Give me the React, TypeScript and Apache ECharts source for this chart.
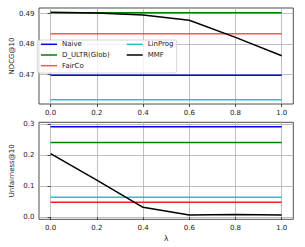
import React, { useEffect, useRef } from "react";
import * as echarts from "echarts";

const lambdas = [0, 0.2, 0.4, 0.6, 0.8, 1.0];
const xTicks = [0, 0.2, 0.4, 0.6, 0.8, 1.0];
const ndcgTicks = [0.47, 0.48, 0.49];
const unfairTicks = [0.0, 0.1, 0.2, 0.3];

const methods = ["Naive", "D_ULTR(Glob)", "FairCo", "LinProg", "MMF"];
const colorsTop = ["#0000ff", "#008000", "#ff5555", "#22c4c4", "#000000"];
const colorsBottom = ["#0000ff", "#008000", "#ff2020", "#22c4c4", "#000000"];

const ndcgNaive = [0.4698, 0.4698, 0.4698, 0.4698, 0.4698, 0.4698];
const ndcgDULTR = [0.4903, 0.4903, 0.4903, 0.4903, 0.4903, 0.4903];
const ndcgFairCo = [0.4834, 0.4834, 0.4834, 0.4834, 0.4834, 0.4834];
const ndcgLinProg = [0.4618, 0.4618, 0.4618, 0.4618, 0.4618, 0.4618];
const ndcgMMF = [0.4904, 0.4902, 0.4895, 0.4878, 0.4822, 0.4762];

const unfNaive = [0.2928, 0.2928, 0.2928, 0.2928, 0.2928, 0.2928];
const unfDULTR = [0.2416, 0.2416, 0.2416, 0.2416, 0.2416, 0.2416];
const unfFairCo = [0.0485, 0.0485, 0.0485, 0.0485, 0.0485, 0.0485];
const unfLinProg = [0.0646, 0.0646, 0.0646, 0.0646, 0.0646, 0.0646];
const unfMMF = [0.2056, 0.12, 0.032, 0.0075, 0.0085, 0.0075];

const ndcgSeries = [ndcgNaive, ndcgDULTR, ndcgFairCo, ndcgLinProg, ndcgMMF];
const unfSeries = [unfNaive, unfDULTR, unfFairCo, unfLinProg, unfMMF];

const FONT = "DejaVu Sans";

function pad(vals: number[][]) {
  const all = vals.flat();
  const lo = Math.min(...all);
  const hi = Math.max(...all);
  const m = (hi - lo) * 0.05;
  return [lo - m, hi + m];
}

export default function App() {
  const ref = useRef<HTMLDivElement>(null);
  useEffect(() => {
    if (!ref.current) return;
    const chart = echarts.init(ref.current, null, { renderer: "svg" });
    const [y1min, y1max] = pad(ndcgSeries);
    const [y2min, y2max] = pad(unfSeries);
    const label = { fontSize: 7, color: "#222", fontFamily: FONT };
    const xAxisBase = (idx: number, showName: boolean) => ({
      type: "value",
      gridIndex: idx,
      min: -0.05,
      max: 1.05,
      axisLine: { show: false },
      axisTick: { show: true, length: 3, customValues: xTicks, lineStyle: { color: "#222", width: 0.8 } },
      axisLabel: { ...label, margin: 5, customValues: xTicks, formatter: (v: number) => v.toFixed(1) },
      splitLine: { show: true, lineStyle: { color: "#b0b0b0", width: 0.8 } },
      name: showName ? "λ" : "",
      nameLocation: "middle",
      nameGap: 15,
      nameMoveOverlap: false,
      nameTextStyle: { ...label, fontSize: 7.5 },
    });
    const yAxisBase = (idx: number, min: number, max: number, ticks: number[], name: string, digits: number) => ({
      type: "value",
      gridIndex: idx,
      min,
      max,
      axisLine: { show: false },
      axisTick: { show: true, length: 3, customValues: ticks, lineStyle: { color: "#222", width: 0.8 } },
      axisLabel: { ...label, margin: 4.5, customValues: ticks, formatter: (v: number) => v.toFixed(digits) },
      splitLine: { show: true, lineStyle: { color: "#b0b0b0", width: 0.8 } },
      name,
      nameLocation: "middle",
      nameGap: 24,
      nameMoveOverlap: false,
      nameTextStyle: { ...label, fontSize: 7 },
    });
    const series: any[] = [];
    methods.forEach((m, i) => {
      series.push({
        type: "line",
        name: m,
        xAxisIndex: 0,
        yAxisIndex: 0,
        data: lambdas.map((x, j) => [x, ndcgSeries[i][j]]),
        symbol: "none",
        lineStyle: { width: 1.5, color: colorsTop[i] },
        itemStyle: { color: colorsTop[i] },
        z: 2,
      });
    });
    methods.forEach((m, i) => {
      series.push({
        type: "line",
        name: m,
        xAxisIndex: 1,
        yAxisIndex: 1,
        data: lambdas.map((x, j) => [x, unfSeries[i][j]]),
        symbol: "none",
        lineStyle: { width: 1.5, color: colorsBottom[i] },
        itemStyle: { color: colorsBottom[i] },
        z: 2,
      });
    });
    const legendCommon = {
      orient: "vertical",
      padding: 0,
      itemWidth: 16,
      itemHeight: 1.5,
      itemGap: 2.7,
      icon: "rect",
      selectedMode: false,
      z: 10,
      textStyle: { fontSize: 7, fontFamily: FONT, color: "#222", lineHeight: 8 },
    };
    chart.setOption({
      animation: false,
      backgroundColor: "#fff",
      grid: [
        { left: 36, top: 8, width: 257.3, height: 96, show: true, borderColor: "#222", borderWidth: 0.8, backgroundColor: "transparent" },
        { left: 36, top: 122.3, width: 257.3, height: 97, show: true, borderColor: "#222", borderWidth: 0.8, backgroundColor: "transparent" },
      ],
      xAxis: [xAxisBase(0, false), xAxisBase(1, true)],
      yAxis: [
        yAxisBase(0, y1min, y1max, ndcgTicks, "NDCG@10", 2),
        yAxisBase(1, y2min, y2max, unfairTicks, "Unfairness@10", 1),
      ],
      legend: [
        { ...legendCommon, left: 41, top: 40.3, data: ["Naive", "D_ULTR(Glob)", "FairCo"] },
        { ...legendCommon, left: 126.7, top: 40.3, data: ["LinProg", "MMF"] },
      ],
      graphic: [
        {
          type: "rect",
          z: 5,
          shape: { x: 37.3, y: 40, width: 139.4, height: 33, r: 2 },
          style: { fill: "rgba(255,255,255,0.8)", stroke: "#cccccc", lineWidth: 0.8 },
        },
      ],
      series,
    });
    return () => chart.dispose();
  }, []);
  return <div ref={ref} style={{ position: "fixed", left: 0, top: 0, width: 305, height: 247 }} />;
}
